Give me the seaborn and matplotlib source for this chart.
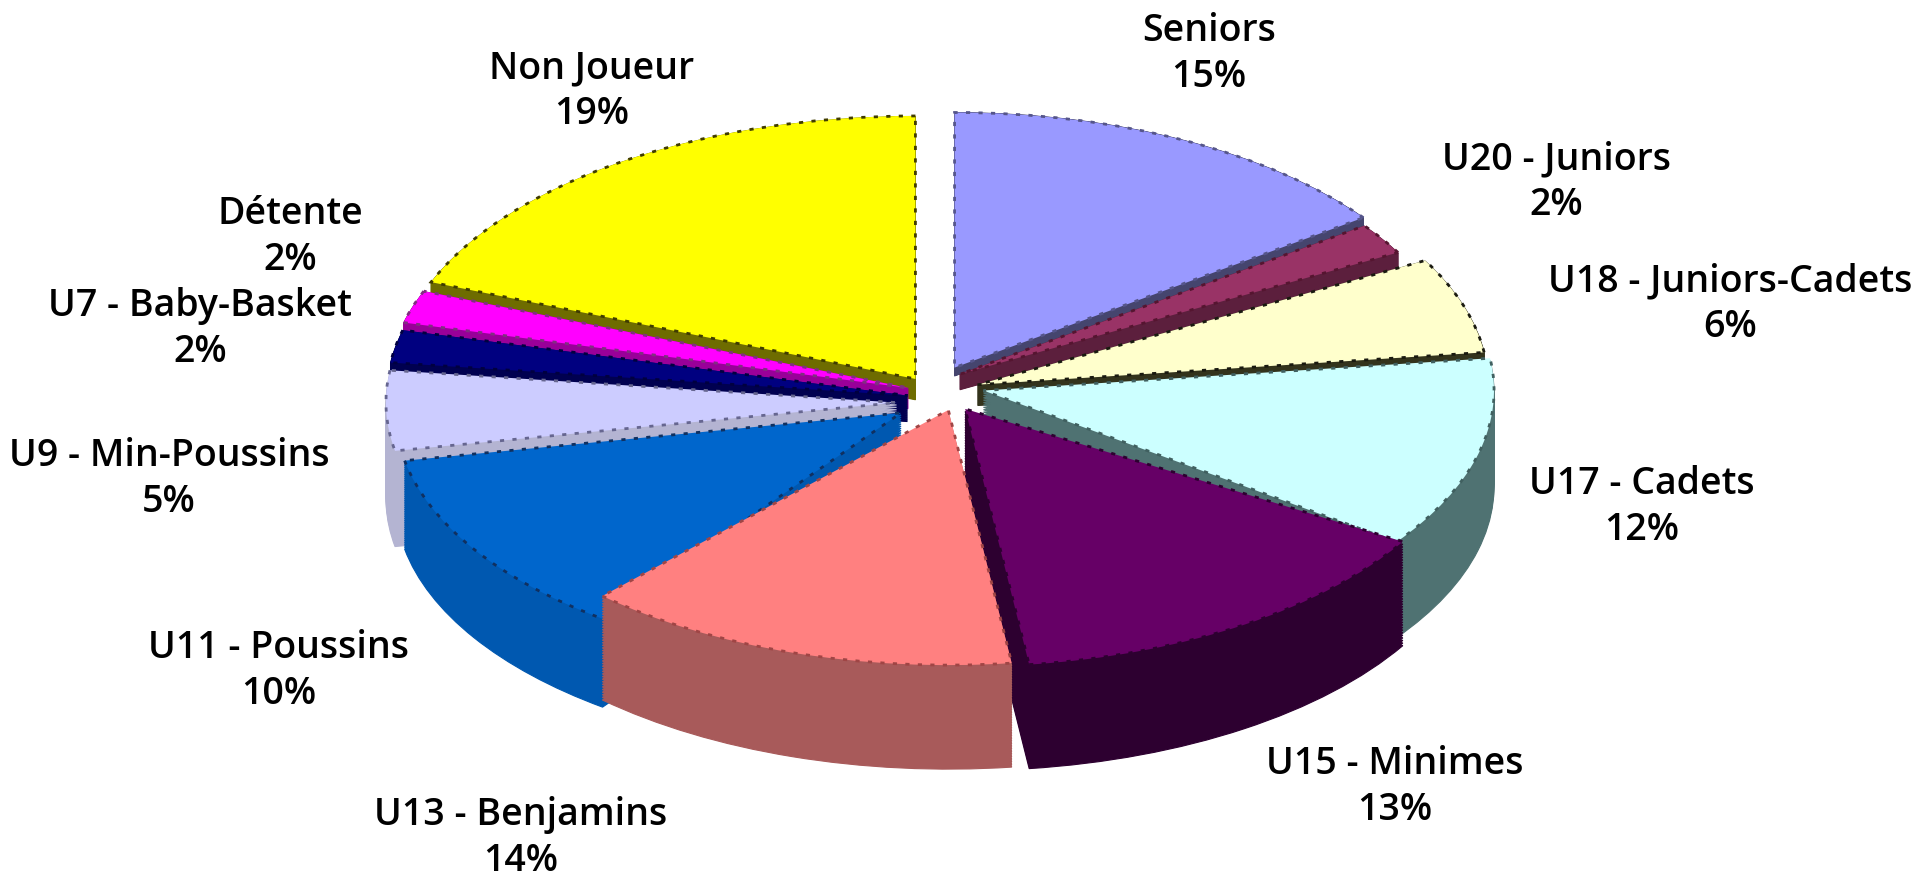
import matplotlib
matplotlib.use("Agg")
import matplotlib.pyplot as plt
import seaborn as sns

sns.set_theme(style="white")
plt.rcParams['font.family'] = ['Open Sans', 'DejaVu Sans']

categories = ["Seniors", "U20 - Juniors", "U18 - Juniors-Cadets", "U17 - Cadets",
              "U15 - Minimes", "U13 - Benjamins", "U11 - Poussins",
              "U9 - Min-Poussins", "U7 - Baby-Basket", "Détente", "Non Joueur"]
shares = [15, 2, 6, 12, 13, 14, 10, 5, 2, 2, 19]

top_colors = ["#9999ff", "#993366", "#ffffcc", "#ccffff", "#660066", "#ff8080",
              "#0066cc", "#ccccff", "#000080", "#ff00ff", "#ffff00"]
side_colors = ["#45456e", "#5c1f3d", "#33331c", "#4f7272", "#2d0030", "#a85a5a",
               "#0058b0", "#b4b4d2", "#000050", "#990099", "#6e6c00"]
edge_colors = ["#55558a", "#551530", "#1a1a10", "#406060", "#2d0030", "#a04545",
               "#103060", "#666690", "#000040", "#803080", "#403c00"]
explode = [0.07, 0.07, 0.09, 0.10, 0.11, 0.06, 0.07, 0.07, 0.05, 0.05, 0.06]
stack_rank = [0, 0, 0, 2, 3, 4, 2, 1, 1, 1, 0]
radius_scale = [0.97, 0.96, 0.98, 0.98, 0.98, 0.97, 0.97, 0.98, 1.0, 1.0, 1.0]
depth_scale = [0.08, 0.15, 0.2, 0.92, 1.0, 1.0, 0.85, 0.92, 0.25, 0.2, 0.2]
# screen-pixel shift of each slice: x to the right, y downwards
nudge_px = [(5, -8), (-4, -8), (0, 0), (0, -8), (3, -8), (25, 3), (0, 12), (0, 10), (0, 6), (0, 0), (0, 0)]
# perspective of the drawing widens these slices on their leading edge (degrees)
edge_extend = [0, 0, 0, 0, 5, 0, 7, 0, 0, 0, 0]

# centre of each two-line label, in reference pixels, same order as categories
label_px = [(1209, 54), (1556, 182), (1730, 304), (1642, 507), (1395, 787),
            (521, 838), (279, 671), (169, 479), (200, 329), (290, 237), (592, 91)]

W, H = 1921, 880
CX, CY = 933, 392
RX, RY = 521, 263
DEPTH = 104 / RY
LAYERS = 40

fig = plt.figure(figsize=(W / 100, H / 100), dpi=100, facecolor="white")
ax = fig.add_axes([0, 0, 1, 1])


def place(wedge, i, frac):
    cx, cy = wedge.center
    wedge.set_center((cx + nudge_px[i][0] / RX,
                      cy - nudge_px[i][1] / RY - DEPTH * depth_scale[i] * frac))
    wedge.set_radius(radius_scale[i])
    wedge.set_theta2(wedge.theta2 + edge_extend[i])


for k in range(LAYERS):
    frac = 1 - k / LAYERS
    wedges, _ = ax.pie(shares, colors=sns.color_palette(side_colors), explode=explode,
                       startangle=90, counterclock=False)
    for i, w in enumerate(wedges):
        place(w, i, frac)
        w.set_zorder(stack_rank[i] + k / (LAYERS + 2))
        w.set_edgecolor(w.get_facecolor())
        w.set_linewidth(0.8)

wedges, _ = ax.pie(shares, colors=sns.color_palette(top_colors), explode=explode,
                   startangle=90, counterclock=False)
for i, w in enumerate(wedges):
    place(w, i, 0)
    w.set_zorder(stack_rank[i] + 0.99)
    w.set_edgecolor(edge_colors[i])
    w.set_linewidth(2.0)
    w.set_linestyle((0, (1.5, 3)))

ax.set_aspect("auto")
ax.set_xlim(-CX / RX, (W - CX) / RX)
ax.set_ylim(-(H - CY) / RY, CY / RY)
ax.axis("off")

for name, share, (x, y) in zip(categories, shares, label_px):
    fig.text(x / W, 1 - y / H, f"{name}\n{share}%", ha="center", va="center",
             fontsize=27, fontweight=600, color="black", linespacing=1.265)

fig.savefig("out.png", dpi=100, facecolor="white")
